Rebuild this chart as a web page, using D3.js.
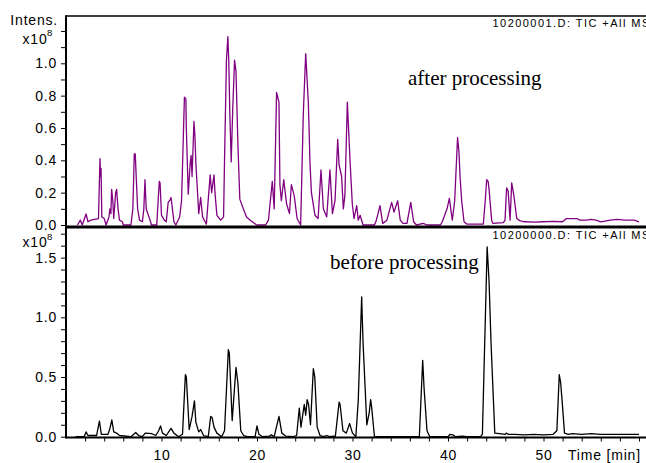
<!DOCTYPE html>
<html><head><meta charset="utf-8">
<script src="https://cdn.jsdelivr.net/npm/d3@7"></script>
<style>
html,body{margin:0;padding:0;background:#fff;}
svg{display:block;}
.sans{font-family:"Liberation Sans",Arial,Helvetica,sans-serif;}
.serif{font-family:"Liberation Serif","Times New Roman",serif;}
</style></head>
<body>
<svg id="chart" width="646" height="463"></svg>
<script>
// ---- data (intensity in units of 1e8, time in minutes) ----
const timeAfter = [1.2,1.5,1.7,2.1,2.3,2.6,3.0,3.4,3.56,3.62,3.67,3.75,4.0,4.2,4.5,4.6,4.7,4.78,4.9,5.0,5.2,5.3,5.45,5.6,5.9,6.0,6.8,7.0,7.15,7.25,7.35,7.5,7.7,8.0,8.15,8.27,8.4,8.8,8.95,9.5,9.65,9.77,9.85,10.0,10.3,10.5,10.7,10.9,11.0,11.1,11.3,11.5,11.9,12.1,12.4,12.55,12.6,12.8,13.0,13.1,13.2,13.4,13.5,13.6,13.9,14.1,14.3,14.7,14.95,15.1,15.25,15.5,15.6,15.8,16.2,16.5,16.6,16.8,16.95,17.05,17.15,17.3,17.45,17.65,17.8,18.0,18.2,18.57,18.9,19.3,19.97,20.9,21.2,21.6,21.8,22.05,22.3,22.4,22.55,22.8,23.1,23.4,23.6,23.9,24.2,24.57,24.85,25.1,25.38,25.55,25.7,26.07,26.4,26.7,26.95,27.3,27.64,27.9,28.17,28.45,28.6,28.86,29.04,29.2,29.46,29.74,29.98,30.16,30.44,30.6,30.8,31.1,32.3,32.5,32.88,33.16,33.6,34.1,34.35,34.73,35.0,35.3,35.7,36.1,36.4,36.7,37.4,37.8,39.2,39.4,39.9,40.14,40.45,40.7,41.0,41.15,41.26,41.43,41.68,41.96,43.7,43.9,44.05,44.2,44.3,44.57,44.7,45.8,45.97,46.14,46.3,46.5,46.67,46.9,47.2,47.5,48.0,49.0,50.0,51.0,52.0,52.4,53.5,53.8,54.5,55.0,55.5,56.0,57.0,57.7,58.5,59.5,60.0];
const intensityAfter = [0.0,0.03,0.0,0.068,0.02,0.03,0.035,0.04,0.41,0.3,0.35,0.05,0.04,0.0,0.05,0.1,0.07,0.22,0.15,0.04,0.2,0.22,0.1,0.03,0.02,0.0,0.0,0.1,0.44,0.44,0.3,0.1,0.03,0.02,0.1,0.28,0.1,0.03,0.0,0.0,0.15,0.27,0.26,0.06,0.03,0.02,0.14,0.155,0.17,0.12,0.02,0.0,0.05,0.15,0.79,0.78,0.6,0.19,0.38,0.43,0.3,0.64,0.55,0.38,0.07,0.17,0.05,0.005,0.2,0.31,0.2,0.31,0.2,0.06,0.03,0.05,0.4,1.02,1.165,1.0,0.7,0.39,0.7,1.02,0.95,0.5,0.16,0.1,0.05,0.03,0.0,0.0,0.03,0.27,0.1,0.82,0.76,0.25,0.15,0.28,0.13,0.07,0.25,0.18,0.04,0.0,0.69,1.06,0.75,0.38,0.2,0.06,0.04,0.34,0.1,0.05,0.34,0.07,0.15,0.53,0.37,0.3,0.1,0.18,0.76,0.4,0.13,0.04,0.12,0.03,0.06,0.0,0.0,0.03,0.12,0.01,0.03,0.14,0.08,0.15,0.03,0.01,0.01,0.14,0.02,0.0,0.01,0.0,0.0,0.02,0.1,0.165,0.03,0.15,0.54,0.45,0.3,0.15,0.02,0.006,0.006,0.15,0.28,0.27,0.22,0.03,0.01,0.015,0.03,0.23,0.21,0.03,0.26,0.18,0.04,0.027,0.02,0.018,0.02,0.022,0.02,0.04,0.04,0.03,0.03,0.035,0.03,0.02,0.03,0.035,0.03,0.03,0.02];

const timeBefore = [1.0,1.9,2.1,2.3,3.2,3.5,3.7,4.4,4.6,4.8,5.0,5.3,5.6,6.8,7.3,7.6,8.0,8.3,9.0,9.4,9.7,9.9,10.1,10.5,11.0,11.3,11.8,12.2,12.5,12.6,12.9,13.2,13.45,13.6,13.9,14.1,14.4,14.9,15.15,15.3,15.5,15.8,16.3,16.6,17.0,17.1,17.4,17.8,18.0,18.3,18.6,19.0,19.8,20.0,20.2,20.6,21.3,21.5,21.8,22.3,22.6,23.0,23.8,24.15,24.43,24.6,24.95,25.1,25.25,25.4,25.6,25.9,26.05,26.3,26.6,27.0,27.3,27.6,28.0,28.2,28.6,28.7,29.0,29.35,29.7,30.0,30.35,30.6,30.96,31.1,31.5,31.75,31.9,32.0,32.3,37.0,37.35,37.5,37.8,38.1,40.0,40.2,40.5,40.8,41.5,42.0,43.4,43.6,44.1,44.3,44.5,44.9,45.4,46.0,46.1,46.3,47.0,48.0,49.0,50.0,51.0,51.4,51.65,51.8,51.95,52.2,52.6,53.0,54.0,55.0,56.0,57.0,58.0,59.0,60.0];
const intensityBefore = [0.0,0.0,0.04,0.01,0.01,0.13,0.02,0.02,0.07,0.14,0.04,0.03,0.01,0.0,0.035,0.01,0.0,0.03,0.025,0.01,0.05,0.09,0.03,0.01,0.07,0.03,0.0,0.02,0.52,0.5,0.06,0.17,0.3,0.12,0.04,0.06,0.01,0.0,0.17,0.16,0.08,0.03,0.0,0.05,0.73,0.7,0.135,0.58,0.45,0.05,0.01,0.0,0.0,0.09,0.02,0.0,0.005,0.015,0.0,0.17,0.03,0.005,0.0,0.01,0.24,0.08,0.27,0.18,0.31,0.27,0.1,0.57,0.5,0.08,0.01,0.0,0.01,0.0,0.005,0.0,0.29,0.27,0.05,0.03,0.11,0.03,0.0,0.3,1.17,0.8,0.1,0.2,0.31,0.25,0.0,0.0,0.64,0.4,0.05,0.0,0.0,0.02,0.015,0.0,0.005,0.0,0.0,0.02,1.59,1.3,0.8,0.03,0.025,0.02,0.03,0.02,0.02,0.015,0.02,0.015,0.02,0.05,0.52,0.45,0.3,0.03,0.02,0.025,0.02,0.025,0.02,0.02,0.02,0.02,0.02];

const xTicks = [2,4,6,8,10,12,14,16,18,20,22,24,26,28,30,32,34,36,38,40,42,44,46,48,50,52,54,56,58,60];
const xTickLabels = [10,20,30,40,50];
const yTopTicks = [0,0.1,0.2,0.3,0.4,0.5,0.6,0.7,0.8,0.9,1.0,1.1,1.2];
const yTopTickLabels = [0,0.2,0.4,0.6,0.8,1.0];
const yBotTicks = [0,0.1,0.2,0.3,0.4,0.5,0.6,0.7,0.8,0.9,1.0,1.1,1.2,1.3,1.4,1.5,1.6,1.7];
const yBotTickLabels = [0,0.5,1.0,1.5];
const titleAfter = "10200001.D: TIC +All MS";
const titleBefore = "10200000.D: TIC +All MS";

// ---- drawing ----
const svg = d3.select("#chart");
svg.append("rect").attr("width",646).attr("height",463).attr("fill","#fff");

const left = 66, right = 66 + 9.55*61.5;
const x = d3.scaleLinear().domain([0, 61.5]).range([left, right]);
const yTop = d3.scaleLinear().domain([0, 1.2925]).range([225, 16]);
const yBot = d3.scaleLinear().domain([0, 1.748]).range([436.7, 228]);

const fmt1 = d3.format(".1f");
const isIn = (arr, v) => arr.some(a => Math.abs(a - v) < 1e-9);

// data lines
const lineAfter = d3.line().x((d,i)=>x(timeAfter[i])).y((d,i)=>yTop(intensityAfter[i]));
const lineBefore = d3.line().x((d,i)=>x(timeBefore[i])).y((d,i)=>yBot(intensityBefore[i]));
svg.append("path").attr("d", lineAfter(timeAfter)).attr("fill","none")
   .attr("stroke","#800080").attr("stroke-width",1.3).attr("stroke-linejoin","round");
svg.append("path").attr("d", lineBefore(timeBefore)).attr("fill","none")
   .attr("stroke","#000").attr("stroke-width",1.3).attr("stroke-linejoin","round");

// frame lines
svg.append("line").attr("x1",left).attr("x2",646).attr("y1",16).attr("y2",16)
   .attr("stroke","#000").attr("stroke-width",1.5);
svg.append("line").attr("x1",left).attr("x2",646).attr("y1",227).attr("y2",227)
   .attr("stroke","#000").attr("stroke-width",3);

// y axes
function styleAxis(g){
  g.select(".domain").remove();
  g.selectAll(".tick line").attr("stroke","#000").attr("stroke-width",1);
  g.selectAll(".tick text").attr("class","sans").attr("font-size",14)
    .attr("letter-spacing","0.8px").attr("fill","#000");
}
const axTop = d3.axisLeft(yTop).tickValues(yTopTicks).tickSize(5).tickPadding(4)
  .tickFormat(d => isIn(yTopTickLabels, d) ? fmt1(d) : "");
svg.append("g").attr("transform",`translate(${left},0)`).call(axTop).call(styleAxis);
const axBot = d3.axisLeft(yBot).tickValues(yBotTicks).tickSize(5).tickPadding(4)
  .tickFormat(d => isIn(yBotTickLabels, d) ? fmt1(d) : "");
svg.append("g").attr("transform",`translate(${left},0)`).call(axBot).call(styleAxis);

// x axis
const axX = d3.axisBottom(x).tickValues(xTicks).tickSize(4).tickPadding(8.5)
  .tickFormat(d => isIn(xTickLabels, d) ? String(d) : "");
svg.append("g").attr("transform","translate(0,437.5)").call(axX).call(styleAxis);
svg.append("line").attr("x1",left).attr("x2",646).attr("y1",437.5).attr("y2",437.5)
   .attr("stroke","#000").attr("stroke-width",2);
svg.append("line").attr("x1",left).attr("x2",left).attr("y1",15.3).attr("y2",438.5)
   .attr("stroke","#000").attr("stroke-width",2);

// labels
function txt(s, xx, yy, size, anchor, cls, ls){
  return svg.append("text").attr("x",xx).attr("y",yy).attr("font-size",size)
    .attr("text-anchor",anchor||"start").attr("class",cls||"sans")
    .attr("letter-spacing",ls||"0px").attr("fill","#000").text(s);
}
txt("Intens.", 58, 25, 14, "end", "sans", "0.8px");
function expLabel(yy){
  const t = svg.append("text").attr("x",22.5).attr("y",yy).attr("class","sans")
    .attr("font-size",14).attr("letter-spacing","0.8px").attr("fill","#000");
  t.append("tspan").text("x10");
  t.append("tspan").attr("font-size",9.5).attr("dy",-7.5).attr("dx",-0.5).text("8");
}
expLabel(43.5);
expLabel(247);
txt(titleAfter, 492.5, 27, 11, "start", "sans", "1.45px");
txt(titleBefore, 492.5, 238.5, 11, "start", "sans", "1.45px");
txt("after processing", 408, 85, 21, "start", "serif");
txt("before processing", 330, 268.5, 21, "start", "serif");
txt("Time [min]", 568, 460, 14, "start", "sans", "0.8px");
</script>
</body></html>
